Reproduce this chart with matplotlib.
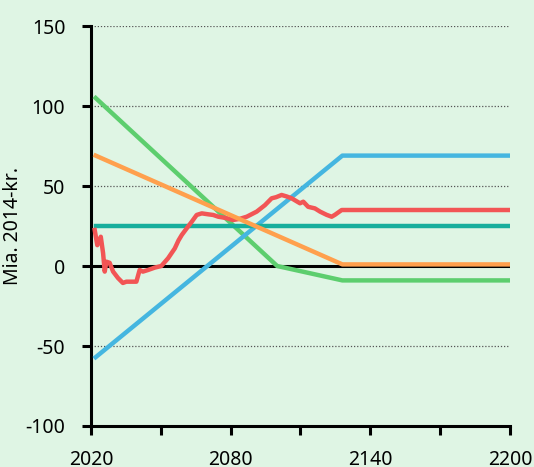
import matplotlib.pyplot as plt
import numpy as np

plt.rcParams['font.family'] = ['Noto Sans', 'DejaVu Sans']

# Data (Mia. 2014-kr.)
green_years = [2022, 2100, 2128, 2200]
green_vals = [105, 0, -9, -9]

orange_years = [2022, 2128, 2200]
orange_vals = [69, 1, 1]

blue_years = [2022, 2128, 2200]
blue_vals = [-57, 69, 69]

teal_years = [2022, 2200]
teal_vals = [25, 25]

red_years = [2021.6, 2022.7, 2024.2, 2025.2, 2025.9, 2026.6, 2028.0, 2029.5,
             2031.6, 2033.7, 2035.2, 2039.5, 2040.9, 2042.3, 2044.5, 2047.4,
             2050.2, 2053.1, 2056.0, 2057.6, 2059.0, 2061.1, 2063.3, 2065.4,
             2067.6, 2070.4, 2072.5, 2074.7, 2078.0, 2081.0, 2084.0, 2086.9,
             2091.2, 2094.7, 2097.6, 2099.5, 2101.9, 2104.0, 2106.2, 2109.8,
             2111.2, 2113.3, 2116.2, 2118.4, 2121.2, 2123.4, 2124.8, 2127.7,
             2200]
red_vals = [22.5, 13, 18.3, 8, -3.5, 2.7, 2, -3.5,
            -7.5, -10.6, -9.8, -9.8, -2.5, -3.5, -2.5, -1,
            0, 4.8, 11, 16, 19.4, 23.5, 27.7, 31.9,
            32.9, 32.3, 31.9, 30.8, 30, 28.75, 29.5, 30.8,
            34, 38, 42.3, 43, 44.4, 43.5, 42.3, 39.2,
            40.2, 37, 36, 34, 32, 30.8, 32, 35,
            35]

y_ticks = [-100, -50, 0, 50, 100, 150]
x_ticks = [2020, 2050, 2080, 2110, 2140, 2170, 2200]
x_labels = ['2020', '', '2080', '', '2140', '', '2200']

bg = '#dff5e4'
fig = plt.figure(figsize=(5.34, 4.67), dpi=100, facecolor=bg)
ax = fig.add_axes([0.1704, 0.0878, 0.7846, 0.8565], facecolor=bg)

# dotted grid lines
for v in [150, 100, 50, -50]:
    ax.axhline(v, color='#555555', lw=0.9, ls=(0, (1, 1.5)), zorder=1)
ax.axhline(0, color='black', lw=2.2, zorder=2)

lw = 3.2
ax.plot(green_years, green_vals, color='#5dce6e', lw=lw, zorder=3)
ax.plot(orange_years, orange_vals, color='#ffa04d', lw=lw, zorder=4)
ax.plot(blue_years, blue_vals, color='#45b6e0', lw=lw, zorder=3)
ax.plot(teal_years, teal_vals, color='#17ae9c', lw=lw, zorder=3)
ax.plot(red_years, red_vals, color='#f25555', lw=lw, zorder=3)

ax.set_xlim(2020, 2200)
ax.set_ylim(-100, 150)
ax.set_yticks(y_ticks)
ax.set_yticklabels([str(v) for v in y_ticks])
ax.set_xticks(x_ticks)
ax.set_xticklabels(x_labels)

for s in ['top', 'right']:
    ax.spines[s].set_visible(False)
for s in ['left', 'bottom']:
    ax.spines[s].set_linewidth(2.2)
ax.tick_params(axis='both', direction='out', length=6.5, width=2.2,
               labelsize=14, colors='black')
ax.tick_params(axis='y', pad=12)
ax.tick_params(axis='x', pad=11)
ax.set_ylabel('Mia. 2014-kr.', fontsize=14, labelpad=2)

fig.savefig('out.png', dpi=100, facecolor=bg)
